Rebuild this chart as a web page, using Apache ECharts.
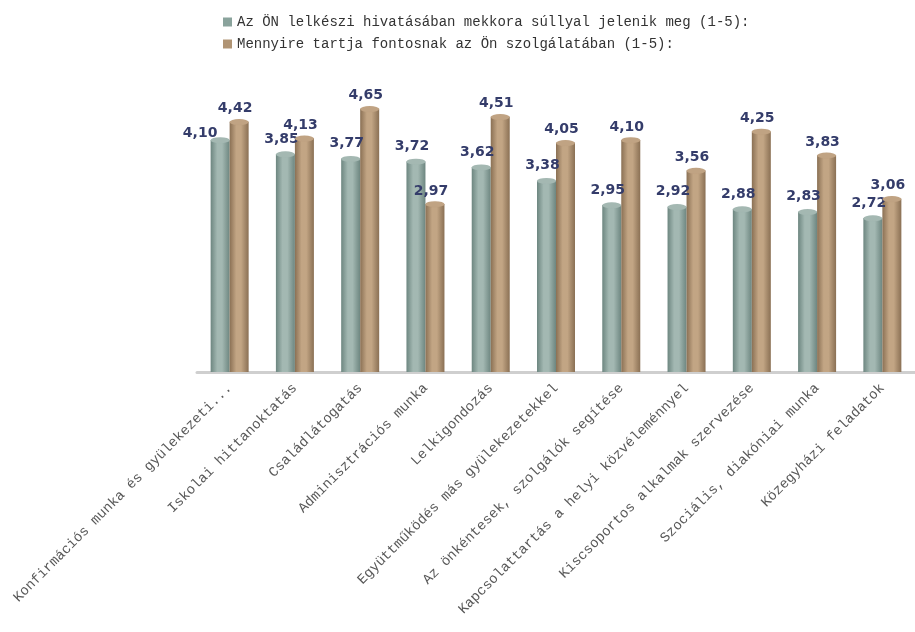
<!DOCTYPE html>
<html>
<head>
<meta charset="utf-8">
<script src="https://cdn.jsdelivr.net/npm/echarts@6/dist/echarts.min.js"></script>
<style>html,body{margin:0;padding:0;background:#fff}#c{width:915px;height:632px}</style>
</head>
<body>
<div id="c"></div>
<script>
const categories = [
  "Konfirmációs munka és gyülekezeti...",
  "Iskolai hittanoktatás",
  "Családlátogatás",
  "Adminisztrációs munka",
  "Lelkigondozás",
  "Együttműködés más gyülekezetekkel",
  "Az önkéntesek, szolgálók segítése",
  "Kapcsolattartás a helyi közvéleménnyel",
  "Kiscsoportos alkalmak szervezése",
  "Szociális, diakóniai munka",
  "Közegyházi feladatok"
];
const seriesNames = [
  "Az ÖN lelkészi hivatásában mekkora súllyal jelenik meg (1-5):",
  "Mennyire tartja fontosnak az Ön szolgálatában (1-5):"
];
const weightValues = [4.10, 3.85, 3.77, 3.72, 3.62, 3.38, 2.95, 2.92, 2.88, 2.83, 2.72];
const importanceValues = [4.42, 4.13, 4.65, 2.97, 4.51, 4.05, 4.10, 3.56, 4.25, 3.83, 3.06];

const fmt = v => v.toFixed(2).replace('.', ',');
const grad = (edge, mid) => new echarts.graphic.LinearGradient(0, 0, 1, 0, [
  {offset: 0, color: edge}, {offset: 0.35, color: mid}, {offset: 0.6, color: mid}, {offset: 1, color: edge}
]);
const labelStyle = {
  show: true, position: 'top', color: '#343c6a', fontFamily: 'DejaVu Sans',
  fontWeight: 'bold', fontSize: 14, formatter: p => fmt(p.value)
};

const tealData = weightValues.map((v, i) => i === 0 ? {value: v, label: {offset: [-20, 8]}} : v);

const chart = echarts.init(document.getElementById('c'));
chart.setOption({
  animation: false,
  legend: {
    orient: 'vertical', left: 218, top: 10, itemWidth: 9, itemHeight: 9, itemGap: 8,
    icon: 'rect',
    textStyle: {fontFamily: 'Liberation Mono', fontSize: 14, color: '#333'},
    data: [
      {name: seriesNames[0], itemStyle: {color: '#8aa39c'}},
      {name: seriesNames[1], itemStyle: {color: '#b09474'}}
    ]
  },
  grid: {left: 197, right: -5, top: 89, bottom: 260},
  xAxis: {
    type: 'category', data: categories,
    axisTick: {show: false},
    axisLine: {lineStyle: {color: '#cfcfcf', width: 3}},
    axisLabel: {rotate: 45, interval: 0, margin: 14, fontFamily: 'Liberation Mono', fontSize: 14, color: '#595959'}
  },
  yAxis: {type: 'value', min: 0, max: 5, show: false, splitLine: {show: false}},
  series: [
    {
      name: seriesNames[0], type: 'bar', barWidth: 19, barGap: '0%', data: tealData,
      itemStyle: {color: grad('#6d8680', '#a3b8b2')},
      label: Object.assign({}, labelStyle, {distance: 8, offset: [-4, 0]})
    },
    {
      name: seriesNames[1], type: 'bar', barWidth: 19, barGap: '0%', data: importanceValues,
      itemStyle: {color: grad('#8a7054', '#c2a584')},
      label: Object.assign({}, labelStyle, {distance: 6, offset: [-4, 0]})
    },
    {
      name: 'cap1', type: 'pictorialBar', barWidth: 19, barGap: '0%', symbol: 'circle',
      symbolSize: [19, 6], symbolPosition: 'end', symbolOffset: [0, '-50%'], data: weightValues,
      itemStyle: {color: '#a4b8b2', borderColor: '#768e88', borderWidth: 1}, z: 3, silent: true
    },
    {
      name: 'cap2', type: 'pictorialBar', barWidth: 19, barGap: '0%', symbol: 'circle',
      symbolSize: [19, 6], symbolPosition: 'end', symbolOffset: [0, '-50%'], data: importanceValues,
      itemStyle: {color: '#c0a383', borderColor: '#8f7558', borderWidth: 1}, z: 3, silent: true
    }
  ]
});
</script>
</body>
</html>
